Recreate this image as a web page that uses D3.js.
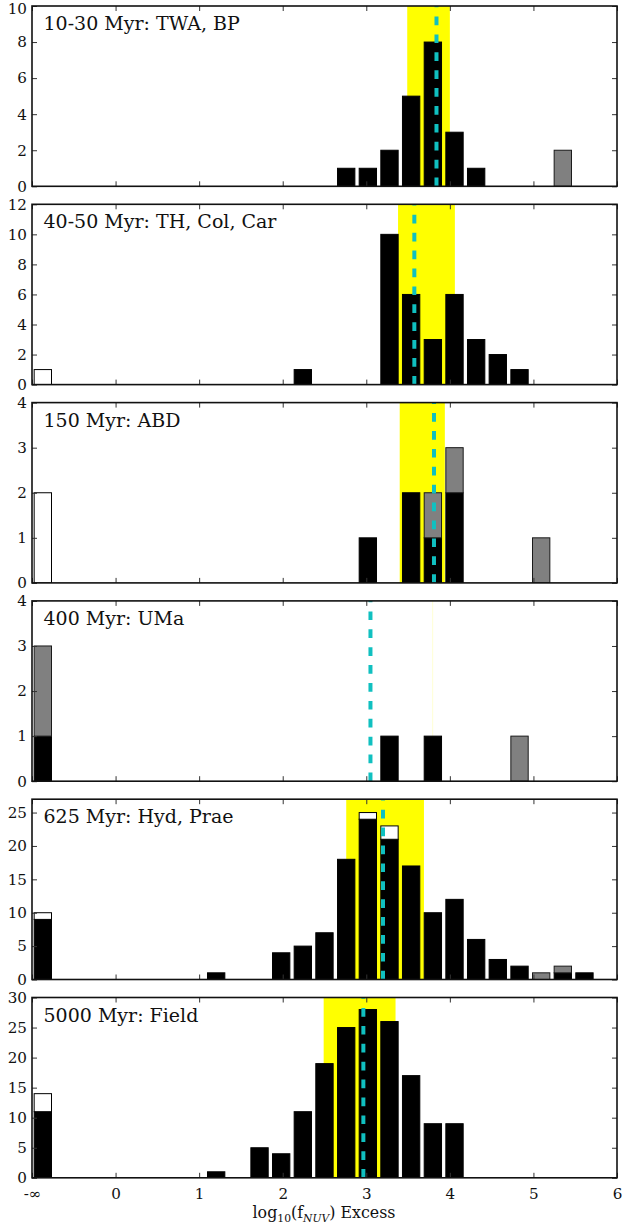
<!DOCTYPE html>
<html>
<head>
<meta charset="utf-8">
<script src="https://cdn.jsdelivr.net/npm/d3@7"></script>
<style>
  html, body { margin: 0; padding: 0; background: #fff; }
  svg { display: block; }
  text { font-family: "DejaVu Serif", "Liberation Serif", serif; fill: #111; }
</style>
</head>
<body>
<svg id="chart" width="623" height="1228"></svg>
<script>
// ---------------- DATA ----------------
// histogram bin left edges (log10 f_NUV excess); first bin holds the -inf values
const binLefts = [-1.000, -0.741, -0.481, -0.222, 0.037, 0.296, 0.556, 0.815, 1.074,
  1.333, 1.593, 1.852, 2.111, 2.370, 2.630, 2.889, 3.148, 3.407, 3.667, 3.926,
  4.185, 4.444, 4.704, 4.963, 5.222, 5.481, 5.741];
const binWidth = 0.2593;

const panelLabels = ["10-30 Myr: TWA, BP", "40-50 Myr: TH, Col, Car", "150 Myr: ABD",
  "400 Myr: UMa", "625 Myr: Hyd, Prae", "5000 Myr: Field"];

// stacked counts per bin: black (bottom), grey (middle), white (top)
const black1 = [0,0,0,0,0,0,0,0,0,0,0,0,0,0,1,1,2,5,8,3,1,0,0,0,0,0,0];
const grey1  = [0,0,0,0,0,0,0,0,0,0,0,0,0,0,0,0,0,0,0,0,0,0,0,0,2,0,0];
const white1 = [0,0,0,0,0,0,0,0,0,0,0,0,0,0,0,0,0,0,0,0,0,0,0,0,0,0,0];

const black2 = [0,0,0,0,0,0,0,0,0,0,0,0,1,0,0,0,10,6,3,6,3,2,1,0,0,0,0];
const grey2  = [0,0,0,0,0,0,0,0,0,0,0,0,0,0,0,0,0,0,0,0,0,0,0,0,0,0,0];
const white2 = [1,0,0,0,0,0,0,0,0,0,0,0,0,0,0,0,0,0,0,0,0,0,0,0,0,0,0];

const black3 = [0,0,0,0,0,0,0,0,0,0,0,0,0,0,0,1,0,2,1,2,0,0,0,0,0,0,0];
const grey3  = [0,0,0,0,0,0,0,0,0,0,0,0,0,0,0,0,0,0,1,1,0,0,0,1,0,0,0];
const white3 = [2,0,0,0,0,0,0,0,0,0,0,0,0,0,0,0,0,0,0,0,0,0,0,0,0,0,0];

const black4 = [1,0,0,0,0,0,0,0,0,0,0,0,0,0,0,0,1,0,1,0,0,0,0,0,0,0,0];
const grey4  = [2,0,0,0,0,0,0,0,0,0,0,0,0,0,0,0,0,0,0,0,0,0,1,0,0,0,0];
const white4 = [0,0,0,0,0,0,0,0,0,0,0,0,0,0,0,0,0,0,0,0,0,0,0,0,0,0,0];

const black5 = [9,0,0,0,0,0,0,0,1,0,0,4,5,7,18,24,21,17,10,12,6,3,2,0,1,1,0];
const grey5  = [0,0,0,0,0,0,0,0,0,0,0,0,0,0,0,0,0,0,0,0,0,0,0,1,1,0,0];
const white5 = [1,0,0,0,0,0,0,0,0,0,0,0,0,0,0,1,2,0,0,0,0,0,0,0,0,0,0];

const black6 = [11,0,0,0,0,0,0,0,1,0,5,4,11,19,25,28,26,17,9,9,0,0,0,0,0,0,0];
const grey6  = [0,0,0,0,0,0,0,0,0,0,0,0,0,0,0,0,0,0,0,0,0,0,0,0,0,0,0];
const white6 = [3,0,0,0,0,0,0,0,0,0,0,0,0,0,0,0,0,0,0,0,0,0,0,0,0,0,0];

// shaded range (yellow) and median (cyan dashed) per panel
const bandLow  = [3.49, 3.38, 3.40, 3.79, 2.76, 2.49];
const bandHigh = [4.00, 4.06, 3.94, 3.80, 3.69, 3.35];
const medians  = [3.84, 3.575, 3.81, 3.05, 3.20, 2.965];

const yMax = [10, 12, 4, 4, 27, 30];
const yTicks = [[0,2,4,6,8,10],[0,2,4,6,8,10,12],[0,1,2,3,4],[0,1,2,3,4],[0,5,10,15,20,25],[0,5,10,15,20,25,30]];
const xTicks = [-1, 0, 1, 2, 3, 4, 5, 6];
const xTickLabels = ["-\u221E", "0", "1", "2", "3", "4", "5", "6"];

const blacks = [black1, black2, black3, black4, black5, black6];
const greys  = [grey1, grey2, grey3, grey4, grey5, grey6];
const whites = [white1, white2, white3, white4, white5, white6];

// ---------------- FONT SIZING (match reference text widths) ----------------
const FONT = '"DejaVu Serif", "Liberation Serif", serif';
const svg = d3.select("#chart");
function fitSize(str, target, base) {
  const t = svg.append("text").attr("font-family", FONT).attr("font-size", base).text(str);
  const w = t.node().getComputedTextLength();
  t.remove();
  return w > 0 ? base * target / w : base;
}
const labelSize = fitSize("625 Myr: Hyd, Prae", 190, 18);
const tickSize = fitSize("25", 19.3, 15);
const titleSize = fitSize("Excess", 55, 16);

// ---------------- LAYOUT ----------------
svg.insert("rect", ":first-child").attr("width", 623).attr("height", 1228).attr("fill", "#fff");

const left = 32, right = 617;
const firstTop = 6, step = 198.3, ph = 180.3;
const x = d3.scaleLinear().domain([-1, 6]).range([left, right]);
const rwidth = 0.8;

for (let p = 0; p < 6; p++) {
  const top = firstTop + p * step;
  const bottom = top + ph;
  const y = d3.scaleLinear().domain([0, yMax[p]]).range([bottom, top]);
  const g = svg.append("g");

  const clipId = "clip" + p;
  g.append("clipPath").attr("id", clipId).append("rect")
    .attr("x", left).attr("y", top).attr("width", right - left).attr("height", ph);

  const plot = g.append("g").attr("clip-path", `url(#${clipId})`);

  // yellow band
  plot.append("rect")
    .attr("x", x(bandLow[p]))
    .attr("y", top)
    .attr("width", Math.max(x(bandHigh[p]) - x(bandLow[p]), 0.6))
    .attr("height", ph)
    .attr("fill", p === 3 ? "#ffffcc" : "#ffff00");

  // stacked bars
  const rows = binLefts.map((b, i) => ({
    x0: b, b: blacks[p][i], g: greys[p][i], w: whites[p][i]
  }));
  const barX = d => x(d.x0 + binWidth * (1 - rwidth) / 2);
  const barW = x(binWidth * rwidth) - x(0);

  const layers = [
    { key: "b", base: d => 0, fill: "#000000", stroke: "#000000" },
    { key: "g", base: d => d.b, fill: "#808080", stroke: "#1a1a1a" },
    { key: "w", base: d => d.b + d.g, fill: "#ffffff", stroke: "#000000" }
  ];
  layers.forEach(L => {
    plot.selectAll(null)
      .data(rows.filter(d => d[L.key] > 0))
      .enter().append("rect")
      .attr("x", barX)
      .attr("width", barW)
      .attr("y", d => y(L.base(d) + d[L.key]))
      .attr("height", d => y(L.base(d)) - y(L.base(d) + d[L.key]))
      .attr("fill", L.fill)
      .attr("stroke", L.stroke)
      .attr("stroke-width", 1);
  });

  // cyan dashed median line (drawn from bottom upward)
  plot.append("line")
    .attr("x1", x(medians[p])).attr("x2", x(medians[p]))
    .attr("y1", bottom).attr("y2", top)
    .attr("stroke", "#10c0c0")
    .attr("stroke-width", 4)
    .attr("stroke-dasharray", "8.7 9.2");

  // axes (inward ticks)
  const yl = g.append("g").attr("transform", `translate(${left},0)`)
    .call(d3.axisLeft(y).tickValues(yTicks[p]).tickFormat(d3.format("d"))
      .tickSizeInner(-5).tickSizeOuter(0).tickPadding(5));
  const yr = g.append("g").attr("transform", `translate(${right},0)`)
    .call(d3.axisRight(y).tickValues(yTicks[p]).tickSizeInner(-5).tickSizeOuter(0).tickFormat(""));
  const xt = g.append("g").attr("transform", `translate(0,${top})`)
    .call(d3.axisTop(x).tickValues(xTicks).tickSizeInner(-5).tickSizeOuter(0).tickFormat(""));
  const xb = g.append("g").attr("transform", `translate(0,${bottom})`)
    .call(d3.axisBottom(x).tickValues(xTicks).tickSizeInner(-5).tickSizeOuter(0).tickPadding(10)
      .tickFormat((d, i) => p === 5 ? xTickLabels[i] : ""));
  [yl, yr, xt, xb].forEach(a => {
    a.select(".domain").remove();
    a.attr("font-family", FONT);
    a.selectAll(".tick line").attr("stroke", "#333").attr("stroke-width", 1);
    a.selectAll(".tick text").attr("font-family", FONT).attr("font-size", tickSize).attr("fill", "#111");
  });
  // keep the topmost label of the first panel inside the picture
  if (p === 0) {
    yl.selectAll(".tick text").filter(d => d === yMax[0]).attr("dy", "0.5em");
  }

  // frame
  g.append("rect")
    .attr("x", left).attr("y", top).attr("width", right - left).attr("height", ph)
    .attr("fill", "none").attr("stroke", "#111").attr("stroke-width", 1.6);

  // panel label
  g.append("text")
    .attr("x", 43.5).attr("y", top + 24)
    .attr("font-family", FONT)
    .attr("font-size", labelSize)
    .text(panelLabels[p]);
}

// x-axis title
const title = svg.append("text")
  .attr("x", 324).attr("y", 1218)
  .attr("text-anchor", "middle")
  .attr("font-family", FONT)
  .attr("font-size", titleSize);
title.append("tspan").text("log");
title.append("tspan").attr("font-size", titleSize * 0.68).attr("dy", 4).text("10");
title.append("tspan").attr("dy", -4).text("(f");
title.append("tspan").attr("font-size", titleSize * 0.68).attr("font-style", "italic").attr("dy", 4).text("NUV");
title.append("tspan").attr("dy", -4).text(") Excess");
</script>
</body>
</html>
